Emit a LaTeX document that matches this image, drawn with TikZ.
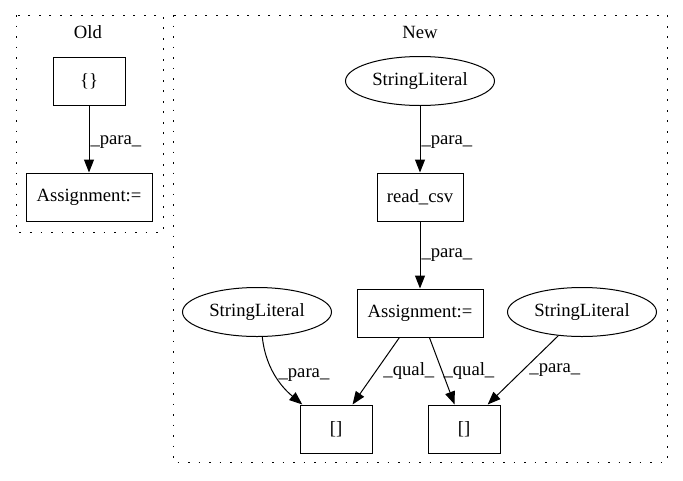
\documentclass[tikz,border=0pt]{standalone}
\usepackage{fontspec}
\setmainfont{Liberation Serif}
\usetikzlibrary{arrows.meta,shapes.geometric}

\tikzset{
  box/.style={draw, line width=1pt, minimum width=72pt, minimum height=48pt, inner sep=2pt},
  oval/.style={draw, ellipse, line width=1pt, minimum width=149pt, minimum height=49pt, inner sep=0pt},
  edge/.style={-{Triangle[length=13pt,width=10pt]}, line width=1pt},
  lbl/.style={anchor=west, inner sep=1pt},
  cluster/.style={dash pattern=on 1.8pt off 8.7pt, line width=0.9pt}
}

\begin{document}
\begin{tikzpicture}[x=1pt, y=-1pt, font=\fontsize{18.67}{22}\selectfont]
  \useasboundingbox (0,0) rectangle (683,480);

  % Old
  \draw[cluster] (16,15) rectangle (163,232);
  \node (oldtitle) at (88,32) {Old};
  \node[box] (braces) at (89,81) {\{\}};
  \node[box, minimum width=126pt] (oldasg) at (89,197) {Assignment:=};
  \draw[edge] (braces) -- node[lbl, pos=0.55] {\_para\_} (oldasg);

  % New
  \draw[cluster] (173,15) rectangle (667,462);
  \node (newtitle) at (420,32) {New};
  \node[oval] (strtop) at (420,81) {StringLiteral};
  \node[box, minimum width=86pt] (readcsv) at (420,197) {read\_csv};
  \node[box, minimum width=126pt] (newasg) at (420,313) {Assignment:=};
  \node[oval] (strleft) at (257,312) {StringLiteral};
  \node[oval] (strright) at (582,312) {StringLiteral};
  \node[box] (idxleft) at (336,429) {[]};
  \node[box] (idxright) at (464,429) {[]};

  \draw[edge] (strtop) -- node[lbl, pos=0.55] {\_para\_} (readcsv);
  \draw[edge] (readcsv) -- node[lbl, pos=0.5] {\_para\_} (newasg);
  \draw[edge] (strleft.-78) .. controls (266,372) and (285,390) .. node[lbl, pos=0.45, xshift=2pt] {\_para\_} (idxleft.144);
  \draw[edge] (newasg.-130) -- node[lbl, pos=0.5, xshift=6pt] {\_qual\_} (idxleft.56);
  \draw[edge] (newasg.-69) -- node[lbl, pos=0.5] {\_qual\_} (idxright.111);
  \draw[edge] (strright.-135) -- node[lbl, pos=0.5, xshift=5pt] {\_para\_} (idxright.46);
\end{tikzpicture}
\end{document}
